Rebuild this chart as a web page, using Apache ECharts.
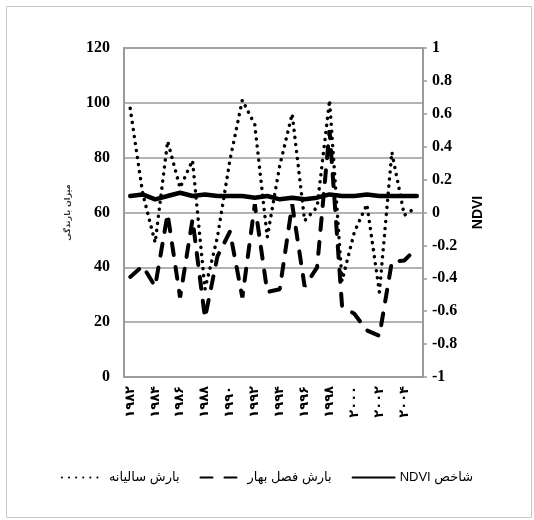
<!DOCTYPE html>
<html>
<head>
<meta charset="utf-8">
<script src="https://cdn.jsdelivr.net/npm/echarts@6/dist/echarts.min.js"></script>
<style>
html,body{margin:0;padding:0;background:#fff;}
#c{width:534px;height:520px;}
</style>
</head>
<body>
<div id="c"></div>
<script>
var years = ['۱۹۸۲','۱۹۸۳','۱۹۸۴','۱۹۸۵','۱۹۸۶','۱۹۸۷','۱۹۸۸','۱۹۸۹','۱۹۹۰','۱۹۹۱','۱۹۹۲','۱۹۹۳',
             '۱۹۹۴','۱۹۹۵','۱۹۹۶','۱۹۹۷','۱۹۹۸','۱۹۹۹','۲۰۰۰','۲۰۰۱','۲۰۰۲','۲۰۰۳','۲۰۰۴','۲۰۰۵'];
var annualRain = [98, 67, 49, 86, 69, 79, 32, 51, 79, 101, 92, 51, 77, 96, 57, 62, 101, 35, 53, 63, 31, 82, 59, 62];
var springRain = [36.5, 40.5, 33, 59.5, 29, 57.5, 21.5, 44, 53, 29, 63, 31, 32, 63, 33, 40, 90, 26, 23, 17, 15, 42, 42.5, 47];
var ndvi = [0.10, 0.11, 0.08, 0.10, 0.12, 0.10, 0.11, 0.10, 0.10, 0.10, 0.09, 0.10, 0.08, 0.09, 0.08, 0.09, 0.11, 0.10, 0.10, 0.11, 0.10, 0.10, 0.10, 0.10];
var seriesNames = ['بارش سالیانه', 'بارش فصل بهار', 'شاخص NDVI'];
var leftAxisName = 'میزان بارندگی';
var rightAxisName = 'NDVI';

var chart = echarts.init(document.getElementById('c'), null, {renderer: 'canvas'});
var gray = '#9a9a9a';
chart.setOption({
  animation: false,
  backgroundColor: '#fff',
  graphic: [{
    type: 'rect', left: 4, top: 4,
    shape: {width: 525, height: 511},
    style: {fill: 'none', stroke: '#c8c8c8', lineWidth: 1}
  }],
  grid: {left: 124, right: 111, top: 48, bottom: 143, show: true, borderColor: gray, borderWidth: 1.5, containLabel: false},
  legend: {
    data: seriesNames,
    left: 'center', top: 466,
    itemWidth: 42, itemHeight: 12, itemGap: 20,
    itemStyle: {color: 'rgba(0,0,0,0)', borderWidth: 0, opacity: 0},
    formatter: function (name) {
      if (name === seriesNames[2]) { return '{a|NDVI} {a|شاخص}'; }
      return name;
    },
    textStyle: {fontFamily: 'Liberation Sans, DejaVu Sans, sans-serif', fontSize: 13, color: '#000',
                rich: {a: {fontFamily: 'Liberation Sans, DejaVu Sans, sans-serif', fontSize: 13, color: '#000'}}}
  },
  xAxis: {
    type: 'category',
    data: years,
    boundaryGap: true,
    axisLine: {show: true, lineStyle: {color: gray, width: 1.5}},
    axisTick: {show: false},
    axisLabel: {interval: 1, rotate: 90, margin: 9, color: '#000', fontSize: 13, fontWeight: 'bold',
                fontFamily: 'DejaVu Sans, sans-serif'}
  },
  yAxis: [{
    type: 'value', min: 0, max: 120, interval: 20, position: 'left',
    name: leftAxisName, nameLocation: 'middle', nameGap: 52, nameRotate: 90,
    nameTextStyle: {fontSize: 8, fontWeight: 'bold', color: '#333', fontFamily: 'DejaVu Sans, sans-serif'},
    axisLine: {show: true, lineStyle: {color: gray, width: 2}},
    axisTick: {show: false},
    splitLine: {show: true, lineStyle: {color: gray, width: 1.5}},
    axisLabel: {margin: 14, color: '#000', fontSize: 16, fontWeight: 'bold', fontFamily: 'Liberation Serif, serif'}
  }, {
    type: 'value', min: -1, max: 1, interval: 0.2, position: 'right',
    name: rightAxisName, nameLocation: 'middle', nameGap: 48, nameRotate: 90,
    nameTextStyle: {fontSize: 14, fontWeight: 'bold', color: '#000', fontFamily: 'Liberation Sans, sans-serif'},
    axisLine: {show: true, lineStyle: {color: gray, width: 2}},
    axisTick: {show: true, inside: false, length: 4, lineStyle: {color: gray, width: 1.5}},
    splitLine: {show: false},
    axisLabel: {margin: 9, color: '#000', fontSize: 16, fontWeight: 'bold', fontFamily: 'Liberation Serif, serif',
                formatter: function (v) { return String(Math.round(v * 10) / 10); }}
  }],
  series: [{
    name: seriesNames[0], type: 'line', yAxisIndex: 0, data: annualRain,
    showSymbol: false, symbol: 'none',
    lineStyle: {color: '#000', width: 3.5, type: [0.1, 7], cap: 'round'},
    itemStyle: {color: '#000'}
  }, {
    name: seriesNames[1], type: 'line', yAxisIndex: 0, data: springRain,
    showSymbol: false, symbol: 'none',
    lineStyle: {color: '#000', width: 4, type: [12, 12], cap: 'round'},
    itemStyle: {color: '#000'}
  }, {
    name: seriesNames[2], type: 'line', yAxisIndex: 1, data: ndvi,
    showSymbol: false, symbol: 'none',
    lineStyle: {color: '#000', width: 4.5, cap: 'round'},
    itemStyle: {color: '#000'}
  }]
});
</script>
</body>
</html>
